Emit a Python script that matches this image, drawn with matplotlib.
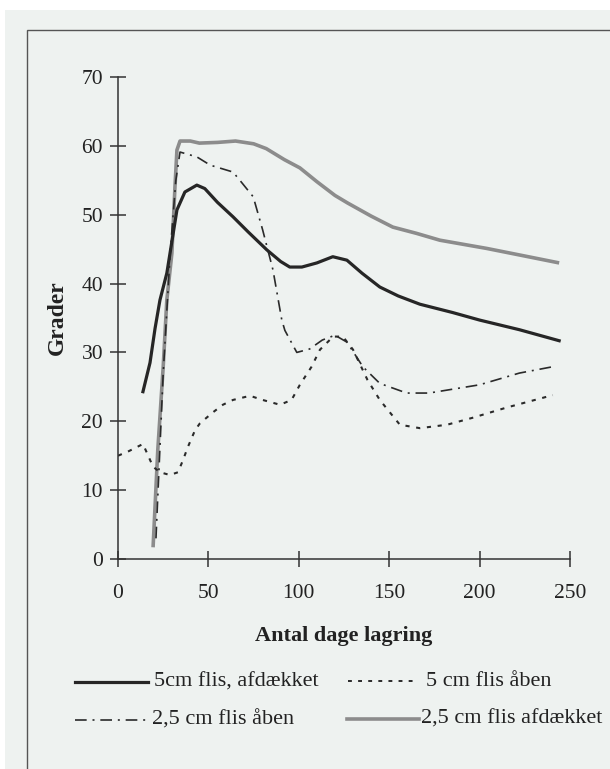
import matplotlib.pyplot as plt
from matplotlib.lines import Line2D
from matplotlib.patches import Rectangle

# 5cm flis, afdækket
dage_5cm_daekket = [13.8, 17.7, 20.5, 23.2, 27, 32.6, 37, 43.6, 48, 55, 63.6, 72, 82.3, 90, 95, 101.7, 110, 118.8, 126.6, 135, 144.8, 155, 167, 185, 200, 222, 244]
temp_5cm_daekket = [24.3, 28.5, 33.5, 37.6, 41.5, 50.7, 53.3, 54.3, 53.8, 51.8, 49.7, 47.5, 44.9, 43.2, 42.4, 42.4, 43.0, 43.9, 43.4, 41.5, 39.5, 38.2, 37.0, 35.8, 34.7, 33.3, 31.7]

# 5 cm flis åben
dage_5cm_aaben = [0, 5.5, 13.8, 19.4, 23.2, 28.7, 33.2, 36, 38.7, 42.6, 45.3, 52.5, 58, 63.6, 73, 80, 89.6, 96, 100.6, 107, 111.7, 119, 124.4, 130, 138, 144.8, 155.9, 167, 182, 196, 215, 240.5]
temp_5cm_aaben = [15.0, 15.6, 16.7, 13.4, 12.6, 12.2, 12.6, 14.4, 16.3, 18.7, 19.7, 21.3, 22.4, 23.1, 23.7, 23.1, 22.4, 23.1, 25.3, 27.9, 30.4, 32.3, 32.3, 30.4, 26.0, 23.1, 19.5, 19.0, 19.5, 20.5, 22.0, 23.8]

# 2,5 cm flis åben
dage_25cm_aaben = [21, 25, 29, 32, 34.3, 43.6, 51, 63.6, 67.4, 74.8, 80, 85.7, 90.6, 92.3, 98.9, 106, 113, 120, 126.6, 135.5, 144.8, 159.7, 172, 200, 222, 240]
temp_25cm_aaben = [3.0, 27.0, 45.0, 55.0, 59.1, 58.4, 57.2, 56.2, 55.0, 52.6, 47.8, 42.0, 34.7, 33.2, 30.0, 30.5, 31.8, 32.5, 31.5, 27.9, 25.5, 24.1, 24.1, 25.3, 27.0, 27.9]

# 2,5 cm flis afdækket
dage_25cm_daekket = [19.4, 22, 25, 27, 29.8, 31.5, 32.6, 34.3, 40, 45, 55, 65, 75, 82, 92, 100.6, 110, 120, 127, 140, 152, 165, 178, 204, 225, 244]
temp_25cm_daekket = [1.7, 15.8, 27.9, 37.6, 44.4, 54.0, 59.4, 60.7, 60.7, 60.4, 60.5, 60.7, 60.3, 59.6, 58.0, 56.8, 54.8, 52.8, 51.7, 49.8, 48.2, 47.3, 46.3, 45.1, 44.0, 43.0]

x_ticks = [0, 50, 100, 150, 200, 250]
y_ticks = [0, 10, 20, 30, 40, 50, 60, 70]

plt.rcParams['font.family'] = ['Liberation Serif', 'DejaVu Serif']

W, H = 610, 769
fig = plt.figure(figsize=(W / 100, H / 100), dpi=100)
fig.patch.set_facecolor('white')

# scanned page and frame
fig.patches.append(Rectangle((5 / W, 0), 1, 1 - 10 / H, transform=fig.transFigure,
                             facecolor='#eef2f0', edgecolor='none', zorder=-2))
fig.patches.append(Rectangle((27 / W, -0.05), 1, 1.05 - 30 / H, transform=fig.transFigure,
                             facecolor='none', edgecolor='#555555', lw=1.0, zorder=-1))

ax = fig.add_axes([118 / W, 1 - 559 / H, 452 / W, 482 / H])
ax.set_facecolor('none')

dashdot = (7, 3.5, 1.2, 3.5)
dotted = (2, 3.2)

ax.plot(dage_25cm_daekket, temp_25cm_daekket, color='#8c8c8c', lw=2.6, solid_capstyle='butt')
ax.plot(dage_25cm_aaben, temp_25cm_aaben, color='#2a2a2a', lw=1.2, dashes=dashdot)
ax.plot(dage_5cm_aaben, temp_5cm_aaben, color='#2a2a2a', lw=1.5, dashes=dotted)
ax.plot(dage_5cm_daekket, temp_5cm_daekket, color='#262626', lw=2.3)

ax.set_xlim(0, 250)
ax.set_ylim(0, 70)
ax.set_xticks(x_ticks)
ax.set_yticks(y_ticks)
for s in ['top', 'right']:
    ax.spines[s].set_visible(False)
for s in ['left', 'bottom']:
    ax.spines[s].set_color('#333333')
    ax.spines[s].set_linewidth(1.1)
    ax.spines[s].set_clip_on(False)
ax.tick_params(direction='inout', length=11.5, width=1.1, color='#333333',
               labelsize=15.5, labelcolor='#222222')
ax.tick_params(axis='y', pad=5)
ax.tick_params(axis='x', pad=12.5)

ax.set_xlabel('Antal dage lagring', fontsize=16, fontweight='bold', color='#222222', labelpad=16.5)
ax.set_ylabel('Grader', fontsize=17, fontweight='bold', color='#222222', labelpad=10)

# legend drawn in figure coordinates: label, line start, line end, row y, text x
legend_items = [
    ('5cm flis, afdækket', 75, 148, 682, 154, dict(color='#262626', lw=2.3)),
    ('5 cm flis åben', 348, 418, 681, 426, dict(color='#2a2a2a', lw=1.4, dashes=dotted)),
    ('2,5 cm flis åben', 75, 147, 720, 152, dict(color='#2a2a2a', lw=1.2, dashes=dashdot)),
    ('2,5 cm flis afdækket', 347, 419, 719, 421, dict(color='#8c8c8c', lw=2.6)),
]
for label, x0, x1, y, tx, style_kw in legend_items:
    fig.lines.append(Line2D([x0 / W, x1 / W], [1 - y / H, 1 - y / H],
                            transform=fig.transFigure, **style_kw))
    fig.text(tx / W, 1 - y / H, label, fontsize=16, color='#222222',
             ha='left', va='center')

fig.savefig('out.png', dpi=100)
